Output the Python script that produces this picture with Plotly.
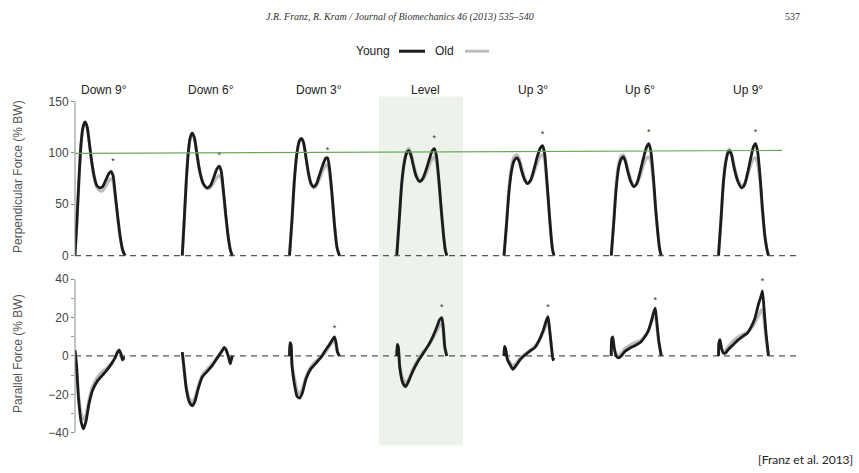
import plotly.graph_objects as go

W, H = 859, 473

conditions = ["Down 9°", "Down 6°", "Down 3°", "Level", "Up 3°", "Up 6°", "Up 9°"]

# Perpendicular force (% BW): stance % and values, per condition
perp_pct = [
    [0, 4, 8, 12, 16, 20, 24, 28, 33, 38, 44, 50, 55, 62, 68, 72, 76, 80, 85, 90, 95, 100],
    [0, 4, 8, 12, 16, 20, 24, 29, 35, 42, 50, 56, 63, 69, 74, 78, 82, 87, 92, 96, 100],
    [0, 5, 10, 15, 20, 24, 28, 33, 38, 43, 48, 54, 61, 68, 73, 76, 80, 85, 90, 95, 100],
    [0, 5, 10, 15, 20, 24, 28, 33, 39, 46, 52, 59, 66, 71, 75, 79, 84, 89, 94, 97, 100],
    [0, 5, 10, 15, 20, 26, 30, 35, 41, 47, 53, 60, 67, 73, 77, 81, 85, 90, 94, 97, 100],
    [0, 5, 10, 15, 20, 24, 28, 33, 39, 45, 51, 58, 65, 71, 75, 79, 84, 89, 94, 97, 100],
    [0, 5, 10, 15, 19, 22, 26, 31, 38, 46, 52, 58, 65, 70, 74, 78, 83, 88, 93, 97, 100],
]
perp_young = [
    [0, 35, 75, 108, 125, 130, 126, 112, 93, 78, 68, 66, 67, 74, 80, 82, 78, 62, 40, 20, 6, 0],
    [0, 35, 72, 100, 115, 119, 115, 100, 82, 70, 66, 68, 76, 84, 87, 82, 65, 40, 18, 6, 0],
    [0, 35, 75, 100, 112, 114, 110, 95, 80, 70, 67, 70, 80, 90, 95, 95, 85, 60, 30, 8, 0],
    [0, 35, 70, 90, 100, 102, 98, 88, 77, 72, 75, 84, 95, 102, 104, 98, 75, 45, 18, 6, 0],
    [0, 30, 62, 82, 92, 95, 92, 83, 74, 70, 73, 84, 97, 105, 107, 100, 78, 45, 20, 6, 0],
    [0, 32, 66, 86, 94, 96, 92, 82, 72, 67, 70, 82, 96, 106, 109, 102, 78, 45, 18, 6, 0],
    [0, 35, 72, 92, 100, 102, 98, 86, 73, 66, 69, 80, 96, 106, 109, 102, 78, 45, 18, 6, 0],
]
perp_old = [
    [0, 35, 75, 108, 124, 128, 125, 112, 92, 76, 66, 63, 63, 68, 73, 75, 72, 58, 38, 19, 6, 0],
    [0, 35, 72, 100, 114, 118, 115, 100, 82, 70, 65, 66, 71, 76, 78, 75, 62, 38, 18, 6, 0],
    [0, 35, 75, 100, 111, 113, 110, 96, 80, 70, 66, 68, 76, 84, 88, 88, 80, 58, 30, 8, 0],
    [0, 35, 72, 92, 102, 104, 100, 90, 79, 73, 74, 80, 89, 94, 96, 92, 72, 44, 18, 6, 0],
    [0, 32, 66, 86, 96, 98, 95, 86, 76, 71, 73, 81, 91, 97, 98, 93, 74, 44, 20, 6, 0],
    [0, 34, 70, 90, 97, 98, 94, 84, 74, 68, 70, 78, 89, 95, 96, 92, 72, 42, 18, 6, 0],
    [0, 36, 74, 94, 102, 103, 99, 88, 75, 68, 70, 78, 89, 94, 95, 90, 72, 42, 18, 6, 0],
]
perp_star_pct = [76, 74, 76, 75, 77, 75, 74]
perp_star_val = [91, 97, 102, 114, 118, 119, 119]

# Parallel force (% BW)
par_pct = [
    [0, 3, 7, 12, 17, 22, 28, 35, 45, 55, 65, 73, 80, 85, 88, 92, 95, 98, 100],
    [0, 3, 8, 14, 20, 25, 32, 40, 50, 60, 70, 78, 84, 88, 93, 96, 98, 100],
    [0, 1, 3, 5, 10, 15, 20, 26, 33, 42, 52, 62, 72, 80, 87, 90, 93, 96, 100],
    [0, 1, 3, 6, 12, 18, 24, 32, 42, 52, 62, 72, 80, 86, 90, 93, 96, 100],
    [0, 1, 3, 7, 13, 18, 24, 32, 42, 52, 62, 70, 78, 84, 88, 92, 96, 98, 100],
    [0, 1, 3, 6, 10, 15, 20, 28, 37, 48, 58, 66, 74, 80, 85, 88, 91, 95, 100],
    [0, 1, 3, 6, 10, 14, 20, 30, 40, 50, 58, 64, 72, 80, 86, 88, 91, 95, 100],
]
par_young = [
    [3, -5, -22, -34, -38, -34, -25, -18, -13, -10, -7, -4, -1, 2, 3, 1, -2, -1, -1],
    [2, -5, -17, -24, -26, -24, -17, -11, -8, -5, -1, 2, 4.5, 3, -1, -4, -2, 0],
    [0, 7, 6, -5, -15, -21, -22, -19, -12, -7, -4, -1, 3, 6, 9, 10, 7, 2, 0],
    [0, 6, 5, -6, -14, -16, -13, -8, -3, 1, 5, 10, 15, 19, 20, 15, 5, 0],
    [0, 5, 4, -2, -5, -7, -5, -2, 0.5, 2.5, 4.5, 8, 13, 18, 20.5, 12, 2, -2, -1],
    [0, 9, 10, 4, 0, -1, 0, 2.5, 4, 5.5, 7, 9.5, 13, 18, 23, 25, 18, 8, 0],
    [0, 7, 8.5, 4, 1.5, 1.5, 3.5, 6, 8.5, 10.5, 12, 14.5, 19, 27, 32, 34, 25, 12, 0],
]
par_old = [
    [3, -5, -20, -30, -33, -31, -23, -16, -11, -8, -6, -4, -1, 2, 3, 1, -2, -1, -1],
    [2, -5, -16, -22, -24, -22, -16, -10, -7, -4, -1, 2, 4, 3, -1, -3, -2, 0],
    [0, 6, 5, -4, -12, -18, -20, -17, -11, -6, -3, -1, 2, 5, 7.5, 8, 6, 2, 0],
    [0, 5, 4, -5, -12, -14, -12, -7, -2, 2, 5, 9, 13, 16, 17, 13, 4, 0],
    [0, 4, 3, -1, -4, -5, -4, -1, 1, 3, 5, 8, 12, 16, 18, 11, 2, -1, -1],
    [0, 8, 9, 4, 1, 0.5, 1.5, 4, 5.5, 7, 8, 10, 13, 17, 21, 22, 16, 7, 0],
    [0, 6, 7.5, 4, 2.5, 3, 5, 8, 10, 11.5, 12.5, 14, 17, 21, 24, 24, 19, 9, 0],
]
par_star_cond = [2, 3, 4, 5, 6]
par_star_pct = [90, 90, 88, 88, 88]
par_star_val = [14, 25, 25, 29, 38.5]

# ---------------- layout helpers ----------------
STEP = 214.5            # x-units between successive conditions (stance % units)
XMAX = 1446
AX_L = 75 / W
AX_R = 798 / W


def py(px):  # pixel y -> paper y
    return (H - px) / H


def px_x(px):  # pixel x -> paper x
    return px / W


fig = go.Figure()
YOUNG = "#1c1c1c"
OLD = "#bdbdbd"

for i in range(len(conditions)):
    off = i * STEP
    xs = [off + p for p in perp_pct[i]]
    fig.add_trace(go.Scatter(x=xs, y=perp_old[i], mode="lines", xaxis="x", yaxis="y",
                             line=dict(color=OLD, width=3.2, shape="spline", smoothing=0.8),
                             showlegend=False, hoverinfo="skip"))
    fig.add_trace(go.Scatter(x=xs, y=perp_young[i], mode="lines", xaxis="x", yaxis="y",
                             line=dict(color=YOUNG, width=2.8, shape="spline", smoothing=0.8),
                             showlegend=False, hoverinfo="skip"))
    xs2 = [off + p for p in par_pct[i]]
    fig.add_trace(go.Scatter(x=xs2, y=par_old[i], mode="lines", xaxis="x2", yaxis="y2",
                             line=dict(color=OLD, width=3.2, shape="spline", smoothing=0.6),
                             showlegend=False, hoverinfo="skip"))
    fig.add_trace(go.Scatter(x=xs2, y=par_young[i], mode="lines", xaxis="x2", yaxis="y2",
                             line=dict(color=YOUNG, width=2.8, shape="spline", smoothing=0.6),
                             showlegend=False, hoverinfo="skip"))

# stars
fig.add_trace(go.Scatter(
    x=[i * STEP + p for i, p in enumerate(perp_star_pct)], y=perp_star_val,
    mode="text", text=["*"] * len(perp_star_val), xaxis="x", yaxis="y",
    textfont=dict(size=9, color="#333", family="Liberation Sans"),
    showlegend=False, hoverinfo="skip"))
fig.add_trace(go.Scatter(
    x=[c * STEP + p for c, p in zip(par_star_cond, par_star_pct)], y=par_star_val,
    mode="text", text=["*"] * len(par_star_val), xaxis="x2", yaxis="y2",
    textfont=dict(size=9, color="#333", family="Liberation Sans"),
    showlegend=False, hoverinfo="skip"))

top_dom = [py(259.2), py(95.9)]
bot_dom = [py(438.9), py(275.1)]

axis_font = dict(family="Liberation Sans", size=12, color="#444")
fig.update_layout(
    width=W, height=H, margin=dict(l=0, r=0, t=0, b=0),
    paper_bgcolor="white", plot_bgcolor="rgba(0,0,0,0)",
    xaxis=dict(domain=[AX_L, AX_R], range=[0, XMAX], visible=False, anchor="y"),
    xaxis2=dict(domain=[AX_L, AX_R], range=[0, XMAX], visible=False, anchor="y2"),
    yaxis=dict(domain=top_dom, range=[-4, 152], anchor="x", showgrid=False, zeroline=False,
               showline=False, tickvals=[0, 50, 100, 150], ticks="outside", ticklen=3,
               tickcolor="#888", tickfont=axis_font),
    yaxis2=dict(domain=bot_dom, range=[-42, 42], anchor="x2", showgrid=False, zeroline=False,
                showline=False, tickvals=[-40, -20, 0, 20, 40], ticks="outside", ticklen=3,
                tickcolor="#888", tickfont=axis_font,
                minor=dict(tickvals=[-30, -10, 10, 30], ticks="outside", ticklen=3, tickcolor="#999")),
)

shapes = []
# shaded Level band
shapes.append(dict(type="rect", xref="x", yref="paper", x0=(379 - 75) * 2, x1=(463 - 75) * 2,
                   y0=py(448), y1=py(93), fillcolor="#edf3ea", line=dict(width=0), layer="below"))
# y-axis lines
shapes.append(dict(type="line", xref="paper", yref="y", x0=AX_L, x1=AX_L, y0=0, y1=150,
                   line=dict(color="#888", width=1)))
shapes.append(dict(type="line", xref="paper", yref="y2", x0=AX_L, x1=AX_L, y0=-40, y1=40,
                   line=dict(color="#888", width=1)))
# dashed zero lines
shapes.append(dict(type="line", xref="x", yref="y", x0=0, x1=XMAX, y0=0, y1=0, layer="below",
                   line=dict(color="#555", width=1.2, dash="6px,5px")))
shapes.append(dict(type="line", xref="x2", yref="y2", x0=0, x1=XMAX, y0=0, y1=0, layer="below",
                   line=dict(color="#555", width=1.2, dash="6px,5px")))
# green reference line
shapes.append(dict(type="line", xref="x", yref="y", x0=0, x1=(782 - 75) * 2, y0=99.5, y1=102.3,
                   line=dict(color="#6aa95a", width=1.2)))
# legend line samples
shapes.append(dict(type="line", xref="paper", yref="paper", x0=px_x(399), x1=px_x(425),
                   y0=py(47), y1=py(47), line=dict(color=YOUNG, width=3)))
shapes.append(dict(type="line", xref="paper", yref="paper", x0=px_x(465), x1=px_x(489),
                   y0=py(47), y1=py(47), line=dict(color=OLD, width=3)))
fig.update_layout(shapes=shapes)

ann = []
for i, c in enumerate(conditions):
    ann.append(dict(x=i * STEP + 58, y=py(86), xref="x", yref="paper", text=c, showarrow=False,
                    font=dict(family="Liberation Sans", size=12, color="#222"),
                    xanchor="center", yanchor="middle"))
ann.append(dict(x=px_x(392), y=py(47), xref="paper", yref="paper", text="Young", showarrow=False,
                font=dict(family="Liberation Sans", size=12, color="#222"), xanchor="right", yanchor="middle"))
ann.append(dict(x=px_x(433), y=py(47), xref="paper", yref="paper", text="Old", showarrow=False,
                font=dict(family="Liberation Sans", size=12, color="#222"), xanchor="left", yanchor="middle"))
ann.append(dict(x=px_x(18), y=py(175), xref="paper", yref="paper", text="Perpendicular Force (% BW)",
                showarrow=False, textangle=-90, font=dict(family="Liberation Sans", size=12, color="#555"),
                xanchor="center", yanchor="middle"))
ann.append(dict(x=px_x(18), y=py(355), xref="paper", yref="paper", text="Parallel Force (% BW)",
                showarrow=False, textangle=-90, font=dict(family="Liberation Sans", size=12, color="#555"),
                xanchor="center", yanchor="middle"))
ann.append(dict(x=px_x(400), y=py(12), xref="paper", yref="paper",
                text="<i>J.R. Franz, R. Kram / Journal of Biomechanics 46 (2013) 535–540</i>",
                showarrow=False, font=dict(family="Liberation Serif", size=10, color="#333"),
                xanchor="center", yanchor="middle"))
ann.append(dict(x=px_x(802), y=py(12), xref="paper", yref="paper", text="537", showarrow=False,
                font=dict(family="Liberation Serif", size=10, color="#333"), xanchor="right", yanchor="middle"))
ann.append(dict(x=px_x(855), y=py(462), xref="paper", yref="paper", text="[Franz et al. 2013]",
                showarrow=False, font=dict(family="Lato", size=12, color="#222"),
                xanchor="right", yanchor="middle"))
fig.update_layout(annotations=ann)

fig.write_html("out.html", config={"displayModeBar": False},
               post_script="document.body.style.margin='0';document.body.style.overflow='hidden';")
